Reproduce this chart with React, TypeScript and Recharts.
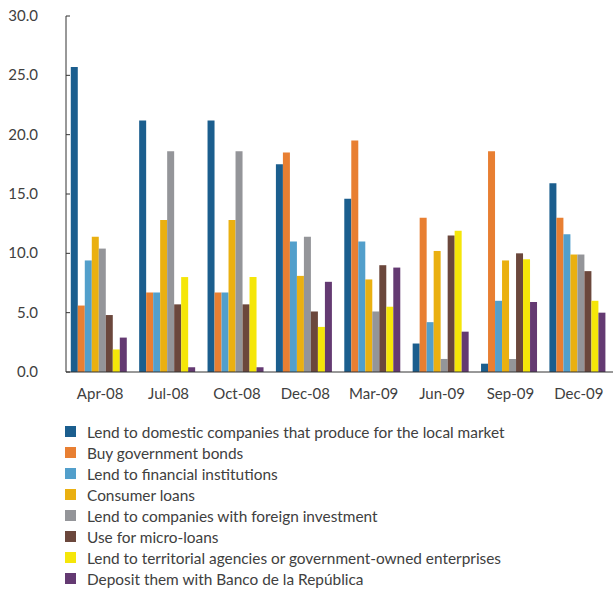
import { Bar, BarChart, XAxis, YAxis } from "recharts"

const periods = ["Apr-08", "Jul-08", "Oct-08", "Dec-08", "Mar-09", "Jun-09", "Sep-09", "Dec-09"]

const domestic = [25.7, 21.2, 21.2, 17.5, 14.6, 2.4, 0.7, 15.9]
const govBonds = [5.6, 6.7, 6.7, 18.5, 19.5, 13.0, 18.6, 13.0]
const financial = [9.4, 6.7, 6.7, 11.0, 11.0, 4.2, 6.0, 11.6]
const consumer = [11.4, 12.8, 12.8, 8.1, 7.8, 10.2, 9.4, 9.9]
const foreignInv = [10.4, 18.6, 18.6, 11.4, 5.1, 1.1, 1.1, 9.9]
const microLoans = [4.8, 5.7, 5.7, 5.1, 9.0, 11.5, 10.0, 8.5]
const territorial = [1.9, 8.0, 8.0, 3.8, 5.5, 11.9, 9.5, 6.0]
const banrep = [2.9, 0.4, 0.4, 7.6, 8.8, 3.4, 5.9, 5.0]

const yTicks = [0, 5, 10, 15, 20, 25, 30]

const series = [
  { key: "domestic", name: "Lend to domestic companies that produce for the local market", color: "#1b5e8e", values: domestic },
  { key: "govBonds", name: "Buy government bonds", color: "#e87f32", values: govBonds },
  { key: "financial", name: "Lend to financial institutions", color: "#529fcb", values: financial },
  { key: "consumer", name: "Consumer loans", color: "#eab011", values: consumer },
  { key: "foreignInv", name: "Lend to companies with foreign investment", color: "#949599", values: foreignInv },
  { key: "microLoans", name: "Use for micro-loans", color: "#6b473c", values: microLoans },
  { key: "territorial", name: "Lend to territorial agencies or government-owned enterprises", color: "#f5e609", values: territorial },
  { key: "banrep", name: "Deposit them with Banco de la República", color: "#643a72", values: banrep },
]

const data = periods.map((p, i) => {
  const row: Record<string, string | number> = { period: p }
  series.forEach((s) => {
    row[s.key] = s.values[i]
  })
  return row
})

const FONT = "Lato, 'Open Sans', sans-serif"
const TEXT = "#404040"

function YTick(props: any) {
  const { x, y, payload } = props
  return (
    <g>
      <text x={x} y={y} dy={5} textAnchor="end" fontSize={15} fontFamily={FONT} fill={TEXT}>
        {Number(payload.value).toFixed(1)}
      </text>
      <line x1={x + 28} y1={y} x2={x + 32} y2={y} stroke="#333" strokeWidth={1} />
    </g>
  )
}

export default function App() {
  return (
    <div style={{ position: "relative", width: 613, height: 590, background: "#fff" }}>
      <style>{`body{margin:0}`}</style>
      <BarChart
        width={613}
        height={420}
        data={data}
        margin={{ top: 16, right: 0, left: 0, bottom: 0 }}
        barCategoryGap="7%"
        barGap={0}
      >
        <XAxis
          dataKey="period"
          height={48}
          tickLine={false}
          axisLine={{ stroke: "#333", strokeWidth: 1 }}
          tick={{ fontSize: 15, fontFamily: FONT, fill: TEXT }}
          tickMargin={10}
          interval={0}
        />
        <YAxis
          width={66}
          domain={[0, 30]}
          ticks={yTicks}
          tickLine={false}
          tickSize={0}
          tickMargin={28}
          axisLine={{ stroke: "#333", strokeWidth: 1 }}
          tick={<YTick />}
          interval={0}
        />
        {series.map((s) => (
          <Bar key={s.key} dataKey={s.key} name={s.name} fill={s.color} isAnimationActive={false} />
        ))}
      </BarChart>
      <div style={{ position: "absolute", left: 65, top: 421, fontFamily: FONT, fontSize: 15.4, color: TEXT }}>
        {series.map((s) => (
          <div key={s.key} style={{ display: "flex", alignItems: "center", height: 21 }}>
            <span style={{ width: 11, height: 11, background: s.color, display: "inline-block", marginRight: 11 }} />
            <span>{s.name}</span>
          </div>
        ))}
      </div>
    </div>
  )
}
